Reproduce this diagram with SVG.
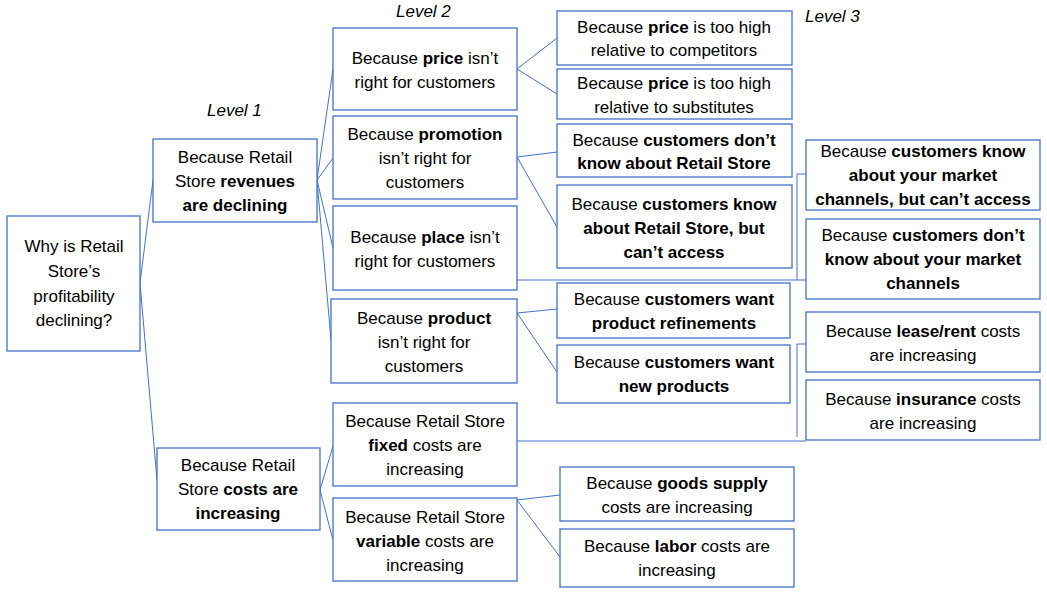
<svg xmlns="http://www.w3.org/2000/svg" width="1047" height="594" viewBox="0 0 1047 594">
<style>
.box{fill:#fff;stroke:#4472C4;stroke-width:1.3}
.t{font-family:"Liberation Sans",Arial,sans-serif;font-size:17px;fill:#000;text-anchor:middle}
.b{font-weight:bold}
.lvl{font-family:"Liberation Sans",Arial,sans-serif;font-size:17px;font-style:italic;fill:#000}
.c{fill:none;stroke:#4472C4;stroke-width:1}
</style>
<rect width="1047" height="594" fill="#fff"/>
<text class="lvl" x="396" y="17">Level 2</text>
<text class="lvl" x="207" y="116">Level 1</text>
<text class="lvl" x="805" y="22">Level 3</text>
<g id="connectors">
<path class="c" d="M140,283 L153,180 M140,283 L157,480"/>
<path class="c" d="M317,180 L333,69 M317,180 L333,158 M317,180 L333,248 M317,180 L331,340"/>
<path class="c" d="M320,490 L333,446 M320,490 L333,540"/>
<path class="c" d="M517,69 L557,38 M517,69 L557,94"/>
<path class="c" d="M517,157 L557,152 M517,157 L557,227"/>
<path class="c" d="M517,313 L557,309 M517,313 L557,372"/>
<path class="c" d="M517,500 L560,495 M517,500 L560,557"/>
<path class="c" d="M517,280 L806,280 M797,280 L797,174 L806,174"/>
<path class="c" d="M517,441 L806,441 M797,437 L797,344 L806,344"/>
</g>
<g id="root"><rect class="box" x="7" y="216" width="133" height="135"/>
<text class="t" x="74"><tspan x="74" y="252">Why is Retail</tspan><tspan x="74" y="277">Store’s</tspan><tspan x="74" y="302">profitability</tspan><tspan x="74" y="326">declining?</tspan></text></g>
<g id="l1-revenues"><rect class="box" x="153" y="139" width="164" height="83"/>
<text class="t"><tspan x="235" y="163">Because Retail</tspan><tspan x="235" y="187">Store <tspan class="b">revenues</tspan></tspan><tspan x="235" y="211" class="b">are declining</tspan></text></g>
<g id="l1-costs"><rect class="box" x="157" y="448" width="163" height="82"/>
<text class="t"><tspan x="238" y="471">Because Retail</tspan><tspan x="238" y="495">Store <tspan class="b">costs are</tspan></tspan><tspan x="238" y="519" class="b">increasing</tspan></text></g>
<g id="l2-price"><rect class="box" x="333" y="28" width="184" height="82"/>
<text class="t"><tspan x="425" y="64">Because <tspan class="b">price</tspan> isn’t</tspan><tspan x="425" y="88">right for customers</tspan></text></g>
<g id="l2-promotion"><rect class="box" x="333" y="116" width="184" height="83"/>
<text class="t"><tspan x="425" y="140">Because <tspan class="b">promotion</tspan></tspan><tspan x="425" y="164">isn’t right for</tspan><tspan x="425" y="188">customers</tspan></text></g>
<g id="l2-place"><rect class="box" x="333" y="206" width="184" height="84"/>
<text class="t"><tspan x="425" y="243">Because <tspan class="b">place</tspan> isn’t</tspan><tspan x="425" y="267">right for customers</tspan></text></g>
<g id="l2-product"><rect class="box" x="331" y="299" width="186" height="84"/>
<text class="t"><tspan x="424" y="324">Because <tspan class="b">product</tspan></tspan><tspan x="424" y="348">isn’t right for</tspan><tspan x="424" y="372">customers</tspan></text></g>
<g id="l2-fixed"><rect class="box" x="333" y="403" width="184" height="83"/>
<text class="t"><tspan x="425" y="427">Because Retail Store</tspan><tspan x="425" y="451"><tspan class="b">fixed</tspan> costs are</tspan><tspan x="425" y="475">increasing</tspan></text></g>
<g id="l2-variable"><rect class="box" x="333" y="498" width="184" height="83"/>
<text class="t"><tspan x="425" y="523">Because Retail Store</tspan><tspan x="425" y="547"><tspan class="b">variable</tspan> costs are</tspan><tspan x="425" y="571">increasing</tspan></text></g>
<g id="l3-price-comp"><rect class="box" x="557" y="11" width="235" height="54"/>
<text class="t"><tspan x="674" y="33">Because <tspan class="b">price</tspan> is too high</tspan><tspan x="674" y="56">relative to competitors</tspan></text></g>
<g id="l3-price-subs"><rect class="box" x="557" y="69" width="235" height="50"/>
<text class="t"><tspan x="674" y="89">Because <tspan class="b">price</tspan> is too high</tspan><tspan x="674" y="113">relative to substitutes</tspan></text></g>
<g id="l3-dont-know-rs"><rect class="box" x="557" y="124" width="235" height="53"/>
<text class="t"><tspan x="674" y="146">Because <tspan class="b">customers don’t</tspan></tspan><tspan x="674" y="169" class="b">know about Retail Store</tspan></text></g>
<g id="l3-know-rs"><rect class="box" x="557" y="185" width="235" height="83"/>
<text class="t"><tspan x="674" y="210">Because <tspan class="b">customers know</tspan></tspan><tspan x="674" y="234" class="b">about Retail Store, but</tspan><tspan x="674" y="258" class="b">can’t access</tspan></text></g>
<g id="l3-refinements"><rect class="box" x="557" y="283" width="233" height="55"/>
<text class="t"><tspan x="674" y="305">Because <tspan class="b">customers want</tspan></tspan><tspan x="674" y="329" class="b">product refinements</tspan></text></g>
<g id="l3-new-products"><rect class="box" x="557" y="345" width="233" height="58"/>
<text class="t"><tspan x="674" y="368">Because <tspan class="b">customers want</tspan></tspan><tspan x="674" y="392" class="b">new products</tspan></text></g>
<g id="l3-goods"><rect class="box" x="560" y="467" width="234" height="54"/>
<text class="t"><tspan x="677" y="489">Because <tspan class="b">goods supply</tspan></tspan><tspan x="677" y="513">costs are increasing</tspan></text></g>
<g id="l3-labor"><rect class="box" x="560" y="529" width="234" height="58"/>
<text class="t"><tspan x="677" y="552">Because <tspan class="b">labor</tspan> costs are</tspan><tspan x="677" y="576">increasing</tspan></text></g>
<g id="l3-know-channels"><rect class="box" x="806" y="140" width="234" height="70"/>
<text class="t"><tspan x="923" y="157">Because <tspan class="b">customers know</tspan></tspan><tspan x="923" y="181" class="b">about your market</tspan><tspan x="923" y="205" class="b">channels, but can’t access</tspan></text></g>
<g id="l3-dont-know-channels"><rect class="box" x="806" y="219" width="234" height="80"/>
<text class="t"><tspan x="923" y="241">Because <tspan class="b">customers don’t</tspan></tspan><tspan x="923" y="265" class="b">know about your market</tspan><tspan x="923" y="289" class="b">channels</tspan></text></g>
<g id="l3-lease"><rect class="box" x="806" y="312" width="234" height="60"/>
<text class="t"><tspan x="923" y="337">Because <tspan class="b">lease/rent</tspan> costs</tspan><tspan x="923" y="361">are increasing</tspan></text></g>
<g id="l3-insurance"><rect class="box" x="806" y="380" width="234" height="60"/>
<text class="t"><tspan x="923" y="405">Because <tspan class="b">insurance</tspan> costs</tspan><tspan x="923" y="429">are increasing</tspan></text></g>
</svg>
